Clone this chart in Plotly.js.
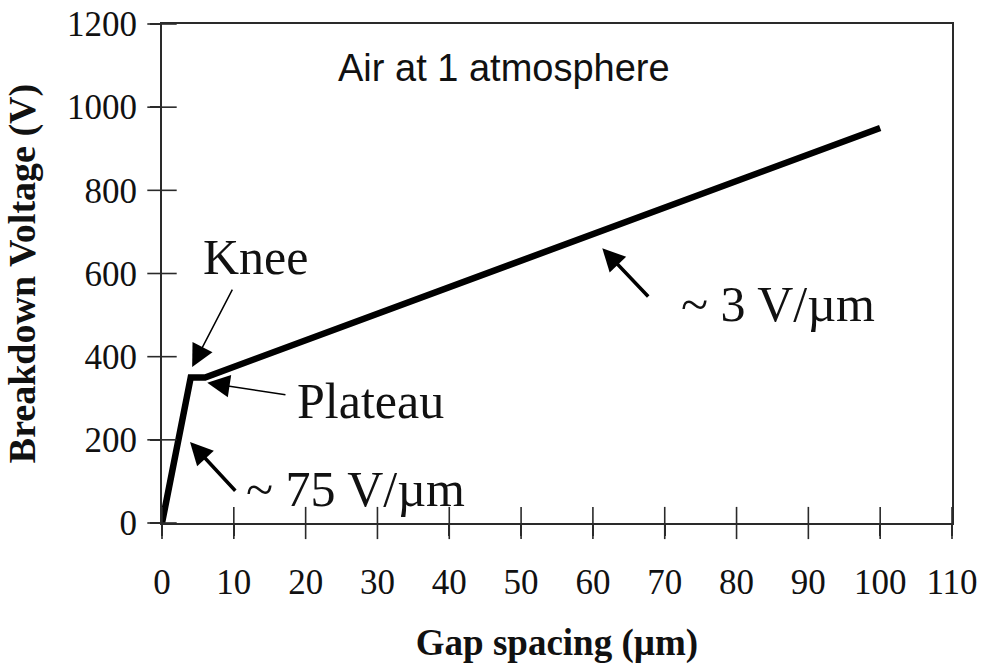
<!DOCTYPE html>
<html>
<head>
<meta charset="utf-8">
<script src="https://cdn.plot.ly/plotly-3.0.1.min.js"></script>
<style>html,body{margin:0;padding:0;background:#fff;}#chart{width:982px;height:664px;}</style>
</head>
<body>
<div id="chart"></div>
<script>
// Data
const gapSpacing = [0, 4, 6, 100];          // µm
const breakdownVoltage = [0, 350, 350, 950]; // V
const xTickVals = [0, 10, 20, 30, 40, 50, 60, 70, 80, 90, 100, 110];
const yTickVals = [0, 200, 400, 600, 800, 1000, 1200];

const serif = 'Liberation Serif, Times New Roman, serif';
const sans = 'Liberation Sans, Arial, sans-serif';
const ink = '#111111';
const axisColor = '#2a2a2a';

const mainTrace = {
  x: gapSpacing, y: breakdownVoltage, type: 'scatter', mode: 'lines',
  line: {color: '#000000', width: 6.5}, cliponaxis: false,
  showlegend: false, hoverinfo: 'x+y'
};
// cross ticks (centred on the axis lines, as in the original)
const xCrossTicks = {
  x: xTickVals, y: xTickVals.map(function () { return 0; }), type: 'scatter', mode: 'markers',
  marker: {symbol: 'line-ns-open', size: 23, color: axisColor, line: {color: axisColor, width: 1.6}},
  cliponaxis: false, showlegend: false, hoverinfo: 'skip'
};
const yCrossTicks = {
  x: yTickVals.map(function () { return 0; }), y: yTickVals, type: 'scatter', mode: 'markers',
  marker: {symbol: 'line-ew-open', size: 21, color: axisColor, line: {color: axisColor, width: 1.6}},
  cliponaxis: false, showlegend: false, hoverinfo: 'skip'
};

const baseAxis = {
  showgrid: false, zeroline: false, showline: true, linecolor: axisColor, linewidth: 2,
  ticks: 'outside', tickcolor: axisColor, tickwidth: 1.6,
  tickfont: {family: serif, size: 35, color: ink}, mirror: true
};

function txt(x, y, t, font, size) {
  return {x: x, y: y, xref: 'x', yref: 'y', text: t, showarrow: false,
          font: {family: font, size: size, color: ink}, xanchor: 'center', yanchor: 'middle'};
}
function arrow(tx, ty, hx, hy, w, s) {
  return {x: hx, y: hy, xref: 'x', yref: 'y', ax: tx, ay: ty, axref: 'x', ayref: 'y',
          text: '', showarrow: true, arrowhead: 2, arrowsize: s, arrowwidth: w,
          arrowcolor: '#000000', standoff: 0, startstandoff: 0};
}

const layout = {
  width: 982, height: 664,
  margin: {l: 162, r: 30, t: 24, b: 141},
  paper_bgcolor: '#ffffff', plot_bgcolor: '#ffffff',
  xaxis: Object.assign({}, baseAxis, {
    range: [0, 110], tickvals: xTickVals, ticklen: 11, ticklabelstandoff: 16,
    title: {text: '<b>Gap spacing (µm)</b>', font: {family: serif, size: 37, color: ink}, standoff: 30}
  }),
  yaxis: Object.assign({}, baseAxis, {
    range: [0, 1200], tickvals: yTickVals, ticklen: 10, ticklabelstandoff: 6,
    title: {text: '<b>Breakdown Voltage (V)</b>', font: {family: serif, size: 38, color: ink}, standoff: 20}
  }),
  annotations: [
    txt(47.6, 1094, 'Air at 1 atmosphere', sans, 38),
    txt(13.1, 640, 'Knee', serif, 50),
    txt(29.0, 293, 'Plateau', serif, 50),
    txt(27.0, 82, '~ 75 V/µm', serif, 50),
    txt(85.8, 527, '~ 3 V/µm', serif, 50),
    arrow(9.9, 565, 4.2, 375, 1.5, 3),
    arrow(17.4, 308, 6.3, 337, 1.5, 3),
    arrow(10.4, 74, 3.9, 195, 3.5, 1.3),
    arrow(67.9, 541, 61.3, 661, 3.5, 1.3)
  ]
};

Plotly.newPlot('chart', [mainTrace, xCrossTicks, yCrossTicks], layout, {displayModeBar: false, staticPlot: true});
</script>
</body>
</html>
